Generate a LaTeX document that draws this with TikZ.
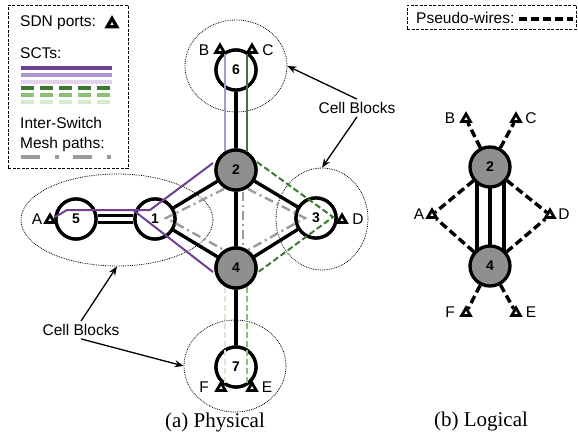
\documentclass[tikz,border=0pt]{standalone}
\usepackage{fontspec}
\setmainfont{Liberation Sans}
\newfontfamily\capfont{Liberation Serif}
\usetikzlibrary{shapes.geometric,arrows.meta,calc}

\definecolor{ngray}{RGB}{143,143,143}
\definecolor{pdark}{RGB}{112,64,145}
\definecolor{pmed}{RGB}{172,148,205}
\definecolor{plight}{RGB}{226,212,234}
\definecolor{gdark}{RGB}{60,120,50}
\definecolor{gmed}{RGB}{140,190,118}
\definecolor{glight}{RGB}{214,235,204}
\definecolor{mgray}{RGB}{155,155,155}

\begin{document}
\begin{tikzpicture}[x=1pt,y=-1pt,
  sw/.style={circle,draw,line width=3.3pt,minimum size=40pt,inner sep=0pt,fill=white},
  swg/.style={sw,fill=ngray},
  num/.style={font=\fontsize{14}{14}\selectfont\bfseries,inner sep=0pt},
  lbl/.style={font=\fontsize{15.5}{16}\selectfont,inner sep=0pt},
  port/.style={regular polygon,regular polygon sides=3,draw,line width=2.8pt,minimum size=10pt,inner sep=0pt,fill=white},
  link/.style={line width=3.4pt},
  cellb/.style={ellipse,draw,densely dotted,line width=0.8pt,inner sep=0pt},
  cbarrow/.style={line width=1.3pt,-{Stealth[length=9pt,width=7pt]}},
  mesh/.style={mgray,line width=2.4pt,dash pattern=on 9pt off 4pt on 2pt off 4pt},
  pw/.style={line width=3.4pt,dash pattern=on 8pt off 4pt},
  sct/.style={line width=2pt},
  gdash/.style={line width=2pt,dash pattern=on 6pt off 3pt},
  legbox/.style={draw,line width=0.9pt,dash pattern=on 3pt off 1.5pt},
  legline/.style={line width=4pt},
]
\useasboundingbox (0,0) rectangle (578,439);

% ---------- legend (left)
\node[legbox,minimum width=120pt,minimum height=163pt,anchor=north west,inner sep=0pt] (leg1) at (8,5) {};
\node[lbl,anchor=west] (legsdn) at (20,23) {SDN ports:};
\node[port,minimum size=11pt,line width=3.3pt] (legtri) at (112,24) {};
\node[lbl,anchor=west] (legsct) at (20,53) {SCTs:};
\draw[legline,pdark] (21,68) -- (112,68);
\draw[legline,pmed] (21,75) -- (112,75);
\draw[legline,plight] (21,82) -- (112,82);
\draw[legline,gdark,dash pattern=on 13pt off 6pt] (21,88) -- (112,88);
\draw[legline,gmed,dash pattern=on 13pt off 6pt] (21,95) -- (112,95);
\draw[legline,glight,dash pattern=on 13pt off 6pt] (21,102) -- (112,102);
\node[lbl,anchor=west] (legis) at (20,123) {Inter-Switch};
\node[lbl,anchor=west] (legmp) at (20,144) {Mesh paths:};
\draw[legline,mgray,dash pattern=on 19pt off 15pt on 4pt off 14pt] (21,157) -- (112,157);

% ---------- legend (right)
\node[legbox,minimum width=169pt,minimum height=24pt,anchor=north west,inner sep=0pt] (leg2) at (407,5) {};
\node[lbl,anchor=west] (legpw) at (416,18) {Pseudo-wires:};
\draw[line width=3.4pt,dash pattern=on 8pt off 4pt] (519,19) -- (573,19);

% ---------- cell blocks
\node[cellb,minimum width=102pt,minimum height=92pt] (cb6) at (236,66) {};
\node[cellb,minimum width=192pt,minimum height=92pt] (cb51) at (117,220) {};
\node[cellb,minimum width=92pt,minimum height=102pt] (cb3) at (322,219) {};
\node[cellb,minimum width=102pt,minimum height=92pt] (cb7) at (235,366) {};

\node[lbl,inner sep=3pt] (cbt1) at (357,108) {Cell Blocks};
\node[lbl,inner sep=3pt] (cbt2) at (81,330) {Cell Blocks};
\draw[cbarrow] (cbt1.north) -- (cb6.east);
\draw[cbarrow] (cbt1.south) -- (cb3.north);
\draw[cbarrow] (cbt2.north) -- (cb51.south);
\draw[cbarrow] (cbt2.south) -- (cb7.west);

% ---------- physical switches (positions)
\node[sw] (n6) at (236,70) {};
\node[swg] (n2) at (236,170) {};
\node[sw] (n1) at (155,219) {};
\node[sw] (n5) at (76,219) {};
\node[sw] (n3) at (316,218) {};
\node[swg] (n4) at (236,268) {};
\node[sw] (n7) at (236,367) {};

% links (drawn, then nodes redrawn on top)
\draw[link] (n6) -- (n2);
\draw[link] (n2) -- (n1);
\draw[link] (n2) -- (n3);
\draw[link] (n2) -- (n4);
\draw[link] (n1) -- (n4);
\draw[link] (n3) -- (n4);
\draw[link] (n4) -- (n7);
\draw[line width=10pt] (n5) -- (n1);
\draw[line width=3.5pt,white] (n5.east) -- (n1.west);

\node[sw] (n6b) at (n6) {};
\node[swg] (n2b) at (n2) {};
\node[sw] (n1b) at (n1) {};
\node[sw] (n5b) at (n5) {};
\node[sw] (n3b) at (n3) {};
\node[swg] (n4b) at (n4) {};
\node[sw] (n7b) at (n7) {};

% ports
\node[port] (tA) at (50,220) {};
\node[port] (tB) at (220,50) {};
\node[port] (tC) at (252,50) {};
\node[port] (tD) at (342,220) {};
\node[port] (tF) at (221,388) {};
\node[port] (tE) at (252,388) {};
\node[lbl] (lA) at (37,219) {A};
\node[lbl] (lB) at (204,50) {B};
\node[lbl] (lC) at (268,50) {C};
\node[lbl] (lD) at (358,219) {D};
\node[lbl] (lF) at (204,387) {F};
\node[lbl] (lE) at (267,387) {E};

% mesh paths
\draw[mesh] (224,189) -- (166,218) -- (224,250);
\draw[mesh] (248,189) -- (305,218) -- (248,250);
\draw[mesh] (243,192) -- (243,246);

% SCTs
\draw[sct,pdark] (55,217) -- (67,210) -- (150,210) -- (213,163);
\draw[sct,pdark] (133,210) -- (213,272);
\draw[sct,pmed] (225,54) -- (225,151);
\draw[sct,gdark] (247,54) -- (247,152);
\draw[gdash,gdark] (257,162) -- (333,217) -- (257,273);
\draw[gdash,gmed] (247,287) -- (247,384);
\draw[gdash,glight] (225,287) -- (225,384);

% switch numbers
\node[num] (n6t) at (n6) {6};
\node[num] (n2t) at (n2) {2};
\node[num] (n1t) at (n1) {1};
\node[num] (n5t) at (n5) {5};
\node[num] (n3t) at (n3) {3};
\node[num] (n4t) at (n4) {4};
\node[num] (n7t) at (n7) {7};

% ---------- logical
\node[swg] (L2) at (490,167) {};
\node[swg] (L4) at (490,266) {};
\node[num] (L2t) at (L2) {2};
\node[num] (L4t) at (L4) {4};
\draw[link] ($(L2)+(-13,15)$) -- ($(L4)+(-13,-15)$);
\draw[link] ($(L2)+(0,20)$) -- ($(L4)+(0,-20)$);
\draw[link] ($(L2)+(14,15)$) -- ($(L4)+(14,-15)$);

\node[port] (qB) at (466,119) {};
\node[port] (qC) at (516,119) {};
\node[port] (qA) at (432,215) {};
\node[port] (qD) at (550,215) {};
\node[port] (qF) at (466,313) {};
\node[port] (qE) at (516,313) {};
\node[lbl] (mB) at (450,118) {B};
\node[lbl] (mC) at (531,118) {C};
\node[lbl] (mA) at (419,214) {A};
\node[lbl] (mD) at (564,214) {D};
\node[lbl] (mF) at (450,312) {F};
\node[lbl] (mE) at (531,312) {E};

\draw[pw] (L2) -- (qB);
\draw[pw] (L2) -- (qC);
\draw[pw] (L2) -- (qA);
\draw[pw] (L2) -- (qD);
\draw[pw] (L4) -- (qA);
\draw[pw] (L4) -- (qD);
\draw[pw] (L4) -- (qF);
\draw[pw] (L4) -- (qE);

% captions
\node[font=\capfont\fontsize{21}{21}\selectfont,inner sep=0pt] (capa) at (215,422) {(a) Physical};
\node[font=\capfont\fontsize{21}{21}\selectfont,inner sep=0pt] (capb) at (481,421) {(b) Logical};
\end{tikzpicture}
\end{document}
